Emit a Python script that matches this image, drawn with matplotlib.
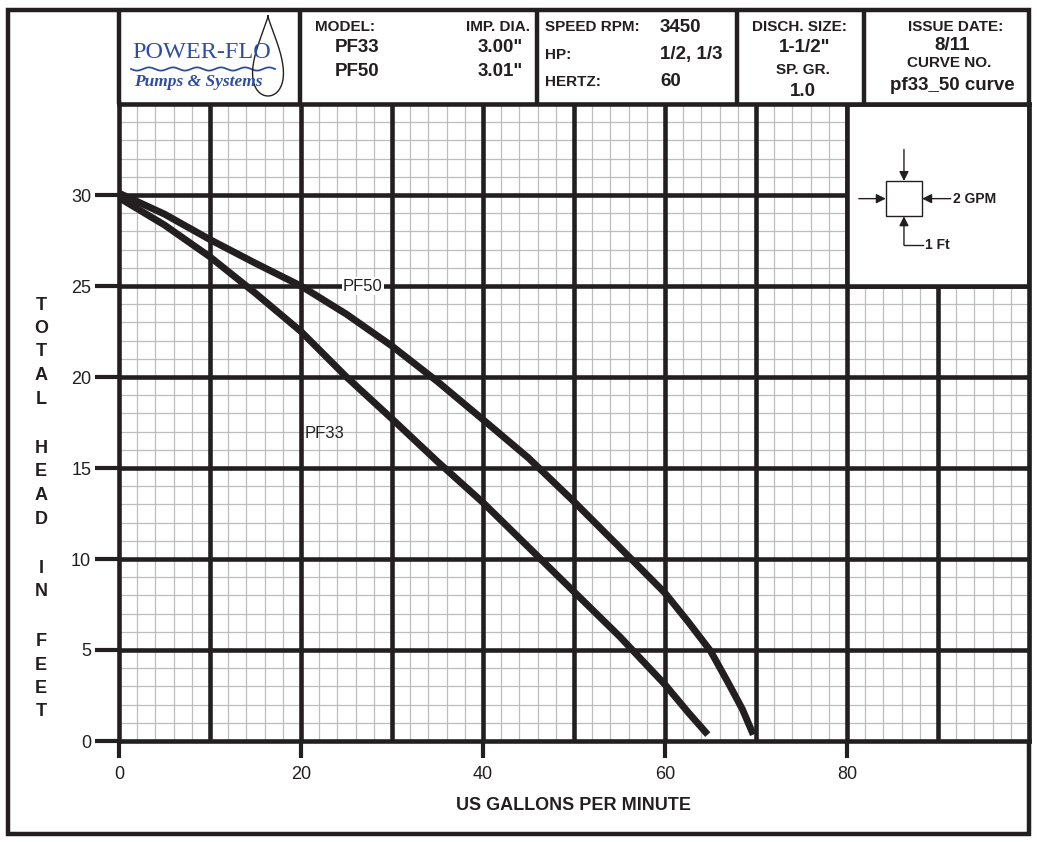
import numpy as np
import matplotlib
matplotlib.use('Agg')
import matplotlib.pyplot as plt
from matplotlib.patches import Rectangle
from matplotlib.ticker import MultipleLocator

plt.rcParams['font.family'] = ['Liberation Sans', 'DejaVu Sans']

# curve data (US GPM, total head in ft)
pf50_gpm = [0, 5, 10, 15, 20, 25, 30, 35, 40, 45, 50, 55, 60, 62.5, 65, 67, 68.5, 69.7]
pf50_ft = [30.1, 28.95, 27.55, 26.25, 25.0, 23.45, 21.7, 19.75, 17.66, 15.55, 13.15,
           10.65, 8.13, 6.58, 4.95, 3.15, 1.75, 0.35]
pf33_gpm = [0, 5, 10, 15, 20, 25, 30, 35, 40, 45, 50, 55, 60, 62.5, 64.7]
pf33_ft = [29.85, 28.35, 26.6, 24.6, 22.5, 20.0, 17.7, 15.35, 13.1, 10.65, 8.2, 5.75,
           3.1, 1.6, 0.35]

x_ticks = [0, 20, 40, 60, 80]
y_ticks = [0, 5, 10, 15, 20, 25, 30]
major_x = [10, 20, 30, 40, 50, 60, 70, 80, 90]
major_y = [5, 10, 15, 20, 25, 30]
ylabel_text = 'TOTAL HEAD IN FEET'

W, H = 1037, 842
fig = plt.figure(figsize=(W / 100, H / 100), dpi=100)

# overlay axes in pixel coords for the frame / header block
bg = fig.add_axes([0, 0, 1, 1])
bg.set_xlim(0, W)
bg.set_ylim(H, 0)
bg.axis('off')
blk = '#231f20'
bg.add_patch(Rectangle((8, 10), 1021, 824, fill=False, lw=3.2, ec=blk))
for xc in [119, 300, 537, 737, 864]:
    bg.plot([xc, xc], [10, 104], color=blk, lw=3.2, solid_capstyle='butt')

# logo
blue = '#2e4ea3'
bg.text(132, 53, 'POWER-FLO', color=blue, fontsize=17.5, family='Liberation Serif',
        ha='left', va='center')
wx = np.linspace(131, 275, 200)
bg.plot(wx, 69 + 1.6 * np.sin((wx - 131) / 144 * 2 * np.pi * 6), color=blue, lw=1.3)
bg.text(134, 82, 'Pumps & Systems', color=blue, fontsize=12.5, family='Liberation Serif',
        style='italic', weight='bold', ha='left', va='center')
t = np.linspace(0, 2 * np.pi, 200)
dx = 268 + 22 * np.sin(t) * np.sin(t / 2) ** 1.5
dy = 56 - 40 * np.cos(t)
bg.plot(dx, dy, color=blk, lw=1)

hd = dict(weight='bold', color=blk, va='center')
bg.text(315, 27, 'MODEL:', fontsize=11, ha='left', **hd)
bg.text(530, 27, 'IMP. DIA.', fontsize=11, ha='right', **hd)
bg.text(335, 48, 'PF33', fontsize=13.5, ha='left', **hd)
bg.text(335, 71, 'PF50', fontsize=13.5, ha='left', **hd)
bg.text(523, 48, '3.00"', fontsize=13.5, ha='right', **hd)
bg.text(523, 71, '3.01"', fontsize=13.5, ha='right', **hd)
bg.text(545, 27, 'SPEED RPM:', fontsize=11, ha='left', **hd)
bg.text(660, 27, '3450', fontsize=13.5, ha='left', **hd)
bg.text(545, 55, 'HP:', fontsize=11, ha='left', **hd)
bg.text(660, 55, '1/2, 1/3', fontsize=13.5, ha='left', **hd)
bg.text(545, 82, 'HERTZ:', fontsize=11, ha='left', **hd)
bg.text(660, 82, '60', fontsize=13.5, ha='left', **hd)
bg.text(799, 27, 'DISCH. SIZE:', fontsize=11, ha='center', **hd)
bg.text(805, 47, '1-1/2"', fontsize=13.5, ha='center', **hd)
bg.text(803, 70, 'SP. GR.', fontsize=11, ha='center', **hd)
bg.text(803, 91, '1.0', fontsize=13.5, ha='center', **hd)
bg.text(956, 27, 'ISSUE DATE:', fontsize=11, ha='center', **hd)
bg.text(952, 45, '8/11', fontsize=13.5, ha='center', **hd)
bg.text(949, 63, 'CURVE NO.', fontsize=11, ha='center', **hd)
bg.text(952, 85, 'pf33_50 curve', fontsize=13.5, ha='center', **hd)

# vertical stacked y label
yy = 305
for ch in ylabel_text:
    if ch == ' ':
        yy += 26
        continue
    bg.text(41, yy, ch, fontsize=13, weight='bold', ha='center', va='center', color=blk)
    yy += 23.5

# main chart
ax = fig.add_axes([119 / W, (H - 741) / H, 910 / W, (741 - 104) / H])
ax.set_xlim(0, 100)
ax.set_ylim(0, 35)
ax.xaxis.set_minor_locator(MultipleLocator(2))
ax.yaxis.set_minor_locator(MultipleLocator(1))
ax.grid(which='minor', color='#bdbdbd', lw=0.9, zorder=0.5)
ax.set_axisbelow(True)
for v in major_x:
    ax.axvline(v, color=blk, lw=3.3, zorder=1)
for v in major_y:
    ax.axhline(v, color=blk, lw=3.3, zorder=1)

# scale inset box
ax.add_patch(Rectangle((80, 25), 20, 10, fc='white', ec=blk, lw=3.3, zorder=2))
cx, cy = 86.26, 29.8
ax.add_patch(Rectangle((cx - 2, cy - 0.97), 4, 1.94, fc='white', ec=blk, lw=1, zorder=3))
ap = dict(arrowstyle='-|>', color=blk, lw=1, mutation_scale=14, shrinkA=0, shrinkB=0)
ax.annotate('', xy=(cx, cy + 0.97), xytext=(cx, 32.5), arrowprops=ap, zorder=3)
ax.annotate('', xy=(cx - 2, cy), xytext=(81.3, cy), arrowprops=ap, zorder=3)
ax.annotate('', xy=(cx + 2, cy), xytext=(91.4, cy), arrowprops=ap, zorder=3)
ax.annotate('', xy=(cx, cy - 0.97), xytext=(cx, 27.25), arrowprops=ap, zorder=3)
ax.plot([cx, 88.3], [27.25, 27.25], color=blk, lw=1, zorder=3)
ax.text(91.7, cy, '2 GPM', fontsize=10, weight='bold', ha='left', va='center', color=blk, zorder=3)
ax.text(88.6, 27.25, '1 Ft', fontsize=10, weight='bold', ha='left', va='center', color=blk, zorder=3)

# pump curves
ax.plot(pf50_gpm, pf50_ft, color=blk, lw=5, solid_capstyle='butt', solid_joinstyle='round', zorder=4)
ax.plot(pf33_gpm, pf33_ft, color=blk, lw=5, solid_capstyle='butt', solid_joinstyle='round', zorder=4)
ax.text(24.6, 25, 'PF50', fontsize=12, ha='left', va='center', color=blk, zorder=4,
        bbox=dict(fc='white', ec='none', pad=1))
ax.text(20.4, 16.9, 'PF33', fontsize=12, ha='left', va='center', color=blk, zorder=4)

ax.set_xticks(x_ticks)
ax.set_yticks(y_ticks)
ax.tick_params(which='major', direction='out', width=3, color=blk, labelsize=13, labelcolor=blk)
ax.tick_params(axis='x', length=12, pad=6)
ax.tick_params(axis='y', length=17, pad=3)
ax.tick_params(which='minor', length=0)
for s in ax.spines.values():
    s.set_linewidth(3.3)
    s.set_color(blk)
ax.set_xlabel('US GALLONS PER MINUTE', fontsize=13, weight='bold', color=blk, labelpad=10)

fig.savefig('out.png', dpi=100)
